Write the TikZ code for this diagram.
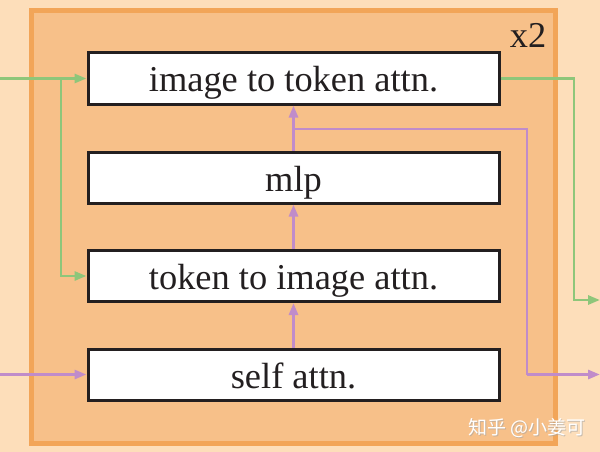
\documentclass[tikz,border=0pt]{standalone}
\usepackage{fontspec}
\setmainfont{Liberation Serif}
\newfontfamily\cjkfont{Noto Sans CJK SC}
\usetikzlibrary{arrows.meta}
\definecolor{bgc}{RGB}{253,222,186}
\definecolor{fillc}{RGB}{247,192,137}
\definecolor{borderc}{RGB}{242,165,88}
\definecolor{greenc}{RGB}{142,198,122}
\definecolor{purplec}{RGB}{192,140,202}
\definecolor{darkc}{RGB}{35,31,32}
\tikzset{
  blockbox/.style={draw=darkc, line width=3pt, fill=white, minimum width=411pt, minimum height=51pt,
    inner sep=0pt, text height=27pt, text depth=0pt, text=darkc, font=\fontsize{36.4}{40}\selectfont},
  gline/.style={draw=greenc, line width=2.8pt},
  pline/.style={draw=purplec, line width=2.8pt},
  tip/.style={-{Triangle[length=12pt,width=9pt]}}
}
\begin{document}
\begin{tikzpicture}[x=1pt,y=-1pt]
\fill[bgc] (0,0) rectangle (600,452);
\useasboundingbox (0,0) rectangle (600,452);
\draw[borderc, fill=fillc, line width=5pt] (31,11) rectangle (555.5,443);
\node[anchor=base, text=darkc, font=\fontsize{36.4}{40}\selectfont] (rep) at (528,48) {x2};
\node[blockbox] (b1) at (293.5,78.5) {image to token attn.};
\node[blockbox] (b2) at (293.5,177.5) {mlp};
\node[blockbox] (b3) at (293.5,276) {token to image attn.};
\node[blockbox] (b4) at (293.5,374.5) {self attn.};
% coordinates
\coordinate (gin) at (0,78.5);
\coordinate (gsplit) at (61,78.5);
\coordinate (gdown) at (61,276);
\coordinate (gr1) at (574,78.5);
\coordinate (gr2) at (574,300);
\coordinate (gout) at (600,300);
\coordinate (pin) at (0,374.5);
\coordinate (psplit) at (293.5,129);
\coordinate (pr1) at (527,129);
\coordinate (pr2) at (527,374.5);
\coordinate (pout) at (600,374.5);
% green
\draw[gline, tip] (gin) -- (b1.west);
\draw[gline, tip] (gsplit) -- (gdown) -- (b3.west);
\draw[gline, tip] (b1.east) -- (gr1) -- (gr2) -- (gout);
% purple
\draw[pline, tip] (pin) -- (b4.west);
\draw[pline, tip] (b4.north) -- (b3.south);
\draw[pline, tip] (b3.north) -- (b2.south);
\draw[pline, tip] (b2.north) -- (b1.south);
\draw[pline] (psplit) -- (pr1) -- (pr2);
\draw[pline, tip] (pr2) -- (pout);
% watermark
\node[text=black!35, font=\cjkfont\fontsize{19}{22}\selectfont, opacity=0.6] at (528.2,429.2) {知乎 @小姜可};
\node[text=white, font=\cjkfont\fontsize{19}{22}\selectfont] (wm) at (527,428) {知乎 @小姜可};
\end{tikzpicture}
\end{document}
